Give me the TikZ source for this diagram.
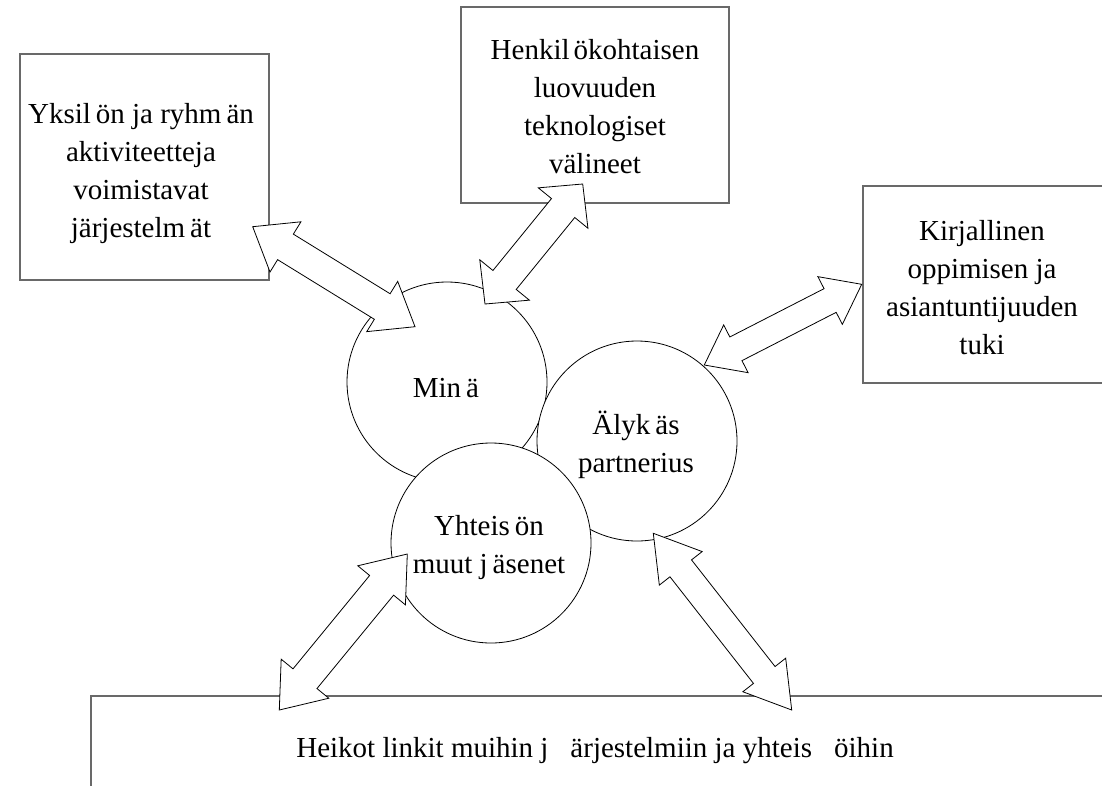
\documentclass[tikz,border=0pt]{standalone}
\usepackage{fontspec}
\setmainfont{Liberation Serif}
\usetikzlibrary{calc}
\definecolor{boxgray}{RGB}{105,105,105}
\newcommand\ml[1]{\begin{tabular}[t]{@{}c@{}}#1\end{tabular}}
% double-headed block arrow: tip A, tip B, shaft half width, head half width, head length
\newcommand\dblarrow[5]{%
  \coordinate (#1-h) at ($(#1)!#5!(#2)$);
  \coordinate (#2-h) at ($(#2)!#5!(#1)$);
  \path[arrowst] (#1)
    -- ($(#1-h)!#4!90:(#2)$) -- ($(#1-h)!#3!90:(#2)$)
    -- ($(#2-h)!#3!-90:(#1)$) -- ($(#2-h)!#4!-90:(#1)$)
    -- (#2)
    -- ($(#2-h)!#4!90:(#1)$) -- ($(#2-h)!#3!90:(#1)$)
    -- ($(#1-h)!#3!-90:(#2)$) -- ($(#1-h)!#4!-90:(#2)$)
    -- cycle;}
\begin{document}
\begin{tikzpicture}[x=1pt,y=-1pt,
  boxst/.style={draw=boxgray, line width=1.4pt, fill=white, inner sep=0pt, outer sep=0pt, anchor=north west},
  circ/.style={circle, draw=black, line width=0.8pt, fill=white, minimum size=200pt, inner sep=0pt},
  lbl/.style={font=\fontsize{29}{38}\selectfont, inner sep=0pt, anchor=base},
  arrowst/.style={draw=black, line width=0.8pt, fill=white, line join=miter}]
\useasboundingbox (0,0) rectangle (1102,785);

% boxes
\node[boxst, minimum width=249pt, minimum height=226pt] (b1) at (20,54) {};
\node[boxst, minimum width=268pt, minimum height=196pt] (b2) at (461,7) {};
\node[boxst, minimum width=245pt, minimum height=197pt] (b3) at (863,186) {};
\node[boxst, minimum width=1030pt, minimum height=130pt] (b4) at (91,696) {};

% circles
\node[circ] (mina) at (447,382) {};
\node[circ] (alyk) at (637,441) {};
\node[circ] (yht) at (491,543) {};

% arrow tips
\coordinate (a1s) at (252.7,226.7); \coordinate (a1e) at (415,326.7);
\coordinate (a2s) at (582.7,184);   \coordinate (a2e) at (485,304);
\coordinate (a3s) at (861.7,284.3); \coordinate (a3e) at (704.3,365);
\coordinate (a4s) at (407.3,554);   \coordinate (a4e) at (279.3,710);
\coordinate (a5s) at (653.3,533.3); \coordinate (a5e) at (791.7,710);

\dblarrow{a1s}{a1e}{15pt}{29.5pt}{38.5pt}
\dblarrow{a2s}{a2e}{15pt}{32pt}{31pt}
\dblarrow{a3s}{a3e}{13.3pt}{26.8pt}{35.5pt}
\dblarrow{a4s}{a4e}{15.5pt}{30.8pt}{40.5pt}
\dblarrow{a5s}{a5e}{13.7pt}{27.2pt}{44.5pt}

% texts
\node[lbl] (t1) at (141,123) {\ml{Yksil\kern5pt ön ja ryhm\kern5pt än\\aktiviteetteja\\voimistavat\\järjestelm\kern5pt ät}};
\node[lbl] (t2) at (595,59) {\ml{Henkil\kern4pt ökohtaisen\\luovuuden\\teknologiset\\välineet}};
\node[lbl] (t3) at (982,240) {\ml{Kirjallinen\\oppimisen ja\\asiantuntijuuden\\tuki}};
\node[lbl] (t4) at (446,397) {Min\kern5pt ä};
\node[lbl] (t5) at (636,434) {\ml{Älyk\kern5pt äs\\partnerius}};
\node[lbl] (t6) at (489,535) {\ml{Yhteis\kern5pt ön\\muut j\kern5pt äsenet}};
\node[lbl] (t7) at (595,757) {Heikot linkit muihin j\kern22pt ärjestelmiin ja yhteis\kern22pt öihin};
\end{tikzpicture}
\end{document}
